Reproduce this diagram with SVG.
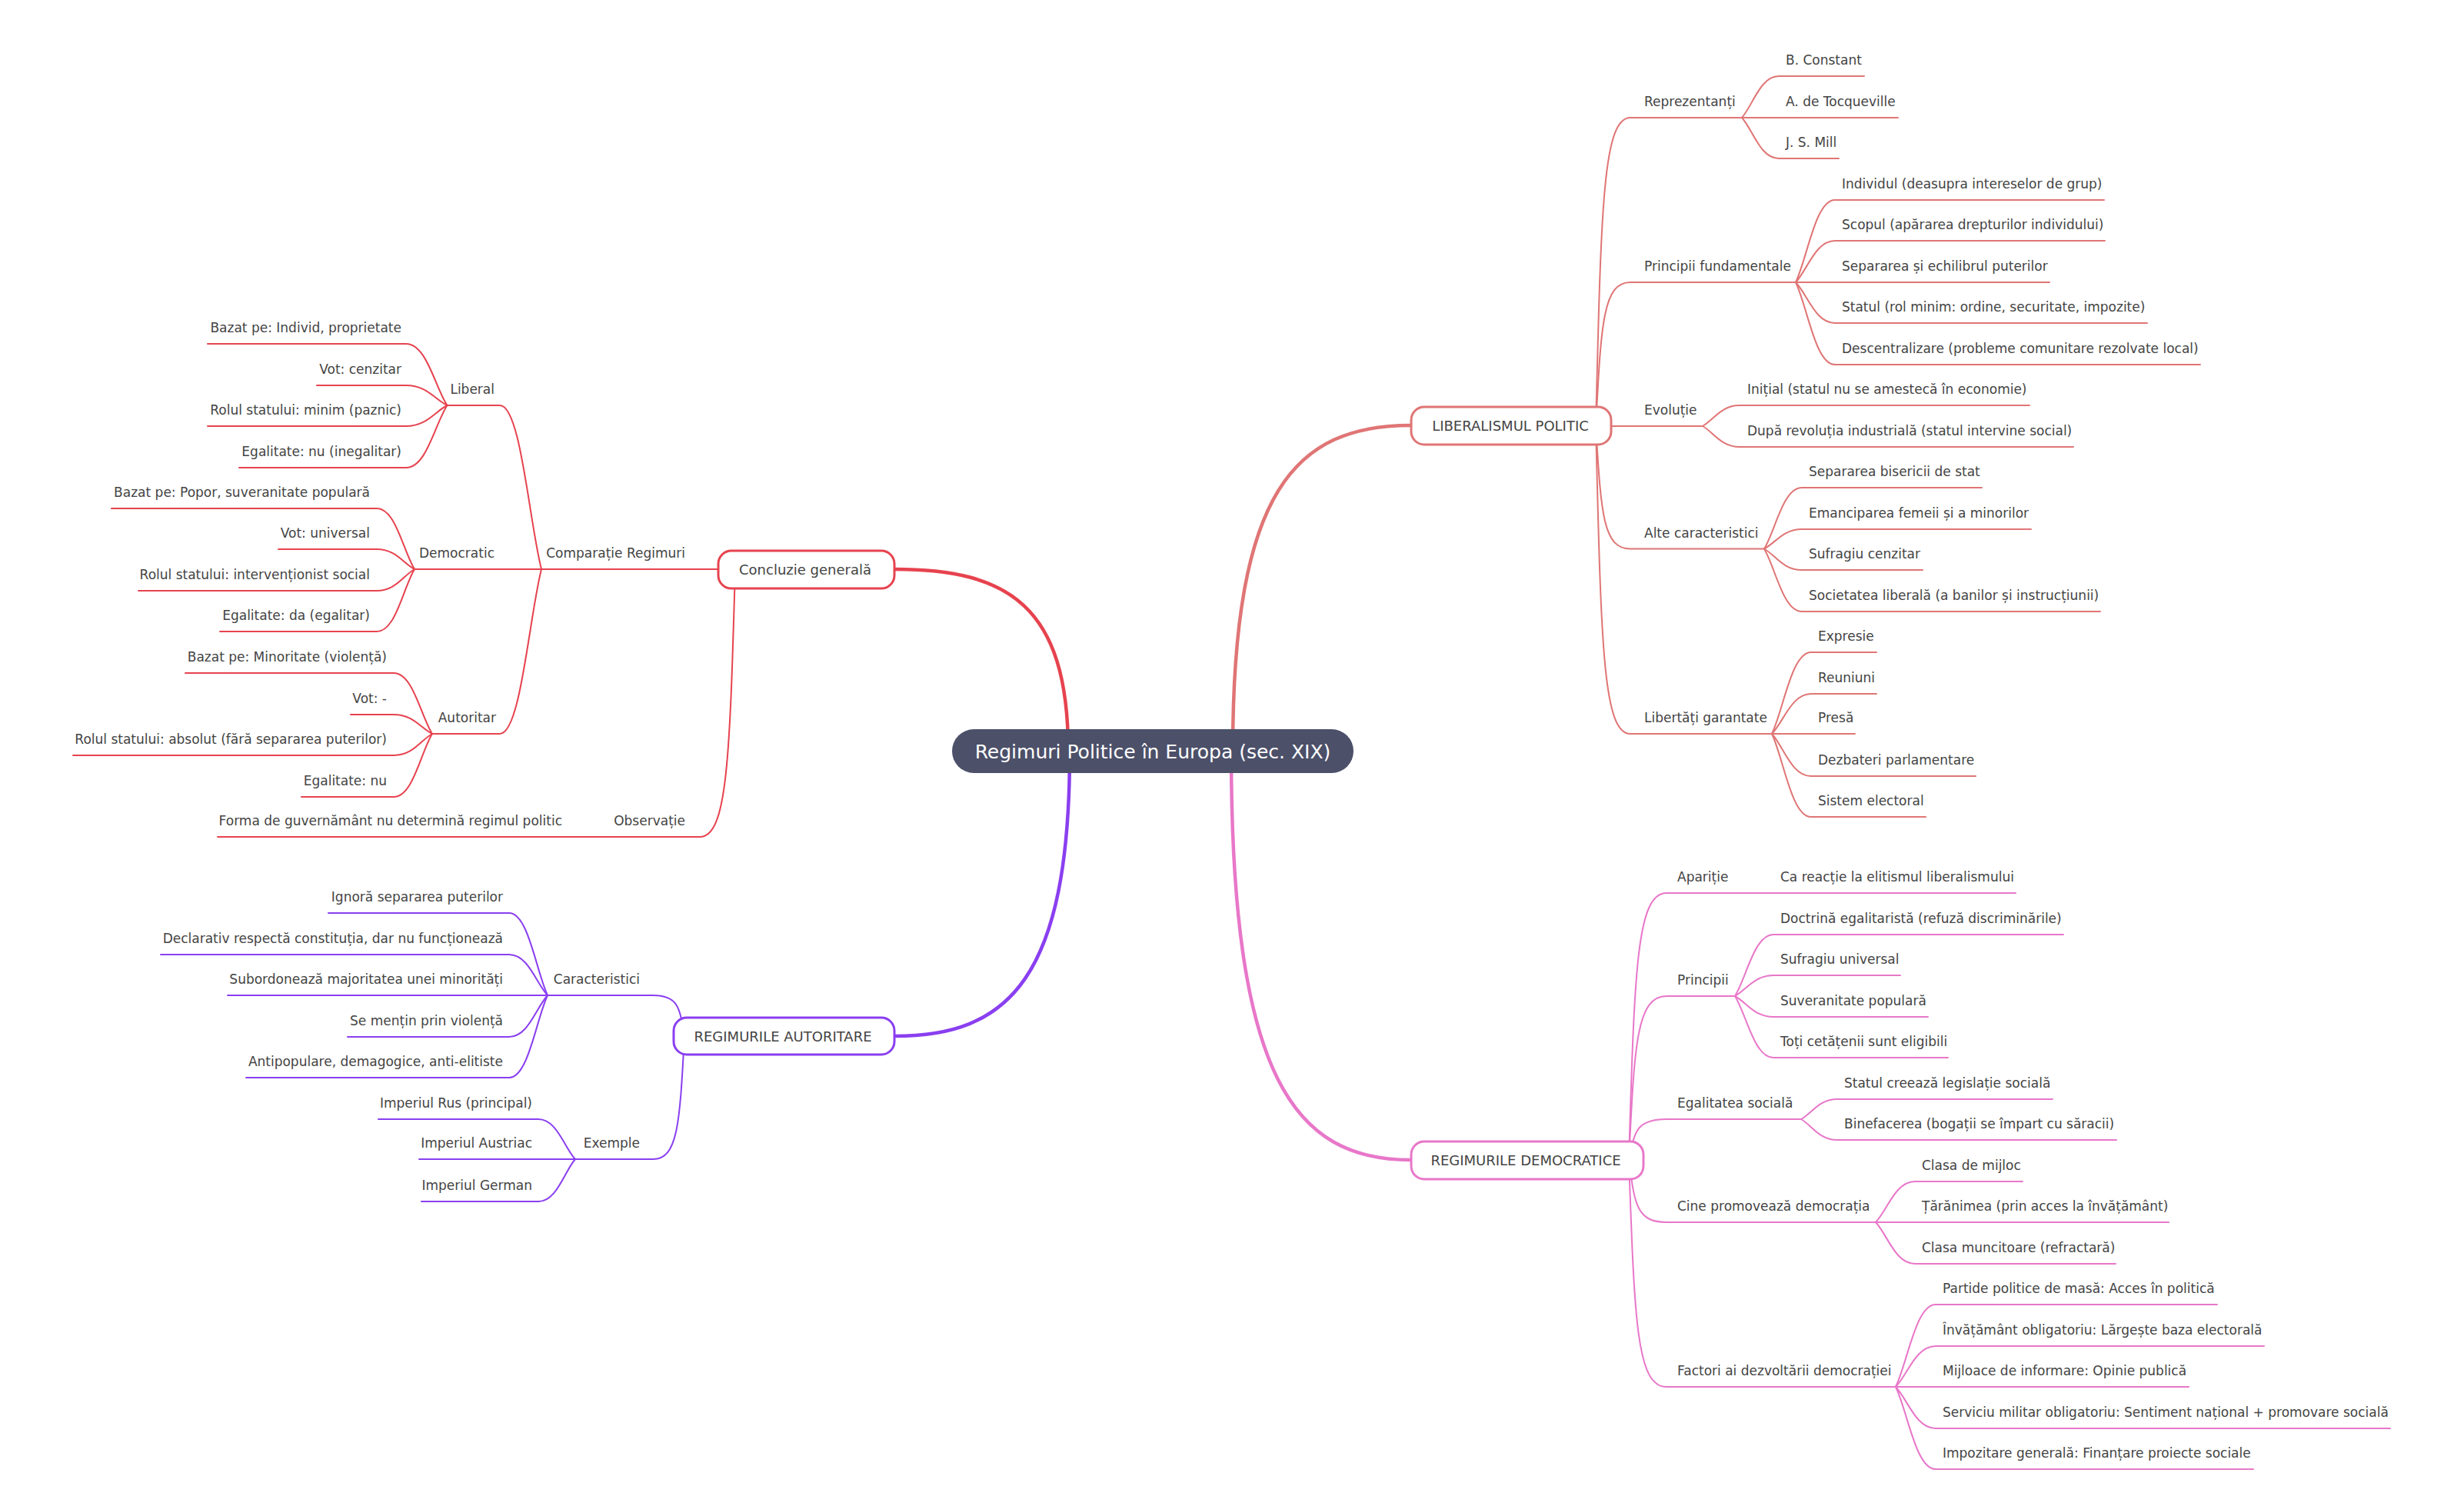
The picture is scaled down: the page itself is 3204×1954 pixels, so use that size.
<svg xmlns="http://www.w3.org/2000/svg" width="3204" height="1954" viewBox="0 0 3204 1954">
<style>
.t{font-family:"DejaVu Sans","Liberation Sans",sans-serif;font-size:17px;fill:#444}
.e{text-anchor:end}
.nt{font-family:"DejaVu Sans","Liberation Sans",sans-serif;font-size:18px;fill:#444;text-anchor:middle}
.rt{font-family:"DejaVu Sans","Liberation Sans",sans-serif;font-size:25px;fill:#fff;text-anchor:middle}
.c{fill:none;stroke-width:2;stroke-linecap:round}
.k{fill:none;stroke-width:4.5;stroke-linecap:round}
.sl{stroke:#e07575}.sr{stroke:#e6434f}.sp{stroke:#8a3ff0}.sk{stroke:#e877c9}
.box{fill:#fff;stroke-width:3}
</style>
<rect width="3204" height="1954" fill="#fff"/>
<g id="connectors">
<path class="k sl" d="M1603,976 C1603,638 1684,553 1835,553"/>
<path class="k sr" d="M1389,976 C1389,787 1310,740 1163,740"/>
<path class="k sp" d="M1391,976 C1391,1273 1311,1347 1163,1347"/>
<path class="k sk" d="M1601,976 C1601,1402 1683,1508 1835,1508"/>
<!-- Liberalism -->
<g class="sl">
<path class="c" d="M2075,554 C2082,273 2084,153 2120,153 H2265"/>
<path class="c" d="M2075,554 C2082,423 2084,367 2120,367 H2335"/>
<path class="c" d="M2095,554 H2214"/>
<path class="c" d="M2075,554 C2082,666 2084,713.5 2120,713.5 H2294"/>
<path class="c" d="M2075,554 C2082,834 2084,954 2120,954 H2304"/>
<path class="c" d="M2265,153 C2279.4,136.8 2289,99 2313,99 H2424"/>
<path class="c" d="M2265,153 H2468"/>
<path class="c" d="M2265,153 C2279.4,168.9 2289,206 2313,206 H2391"/>
<path class="c" d="M2335,367 C2350.3,334.9 2360.5,260 2386,260 H2736"/>
<path class="c" d="M2335,367 C2350.3,350.8 2360.5,313 2386,313 H2737"/>
<path class="c" d="M2335,367 H2665"/>
<path class="c" d="M2335,367 C2350.3,382.9 2360.5,420 2386,420 H2792"/>
<path class="c" d="M2335,367 C2350.3,399.1 2360.5,474 2386,474 H2861"/>
<path class="c" d="M2214,554 C2228.4,545.9 2238,527 2262,527 H2639"/>
<path class="c" d="M2214,554 C2228.4,562.1 2238,581 2262,581 H2696"/>
<path class="c" d="M2294,713.5 C2308.7,689.6 2318.5,634 2343,634 H2577"/>
<path class="c" d="M2294,713.5 C2308.7,705.9 2318.5,688 2343,688 H2641"/>
<path class="c" d="M2294,713.5 C2308.7,721.8 2318.5,741 2343,741 H2500"/>
<path class="c" d="M2294,713.5 C2308.7,738 2318.5,795 2343,795 H2731"/>
<path class="c" d="M2304,954 C2319.3,922.2 2329.5,848 2355,848 H2440"/>
<path class="c" d="M2304,954 C2319.3,938.4 2329.5,902 2355,902 H2440"/>
<path class="c" d="M2304,954 H2412"/>
<path class="c" d="M2304,954 C2319.3,970.5 2329.5,1009 2355,1009 H2569"/>
<path class="c" d="M2304,954 C2319.3,986.4 2329.5,1062 2355,1062 H2504"/>
</g>
<!-- Democratice -->
<g class="sk">
<path class="c" d="M2118,1508 C2125.4,1265 2127.8,1161 2167,1161 H2621"/>
<path class="c" d="M2118,1508 C2125.4,1359 2127.8,1295 2167,1295 H2256"/>
<path class="c" d="M2118,1508 C2125.4,1471 2127.8,1455 2167,1455 H2342"/>
<path class="c" d="M2118,1508 C2125.4,1564.7 2127.8,1589 2167,1589 H2439"/>
<path class="c" d="M2118,1508 C2125.4,1714.5 2127.8,1803 2167,1803 H2465"/>
<path class="c" d="M2256,1295 C2271,1271 2281,1215 2306,1215 H2683"/>
<path class="c" d="M2256,1295 C2271,1286.9 2281,1268 2306,1268 H2471"/>
<path class="c" d="M2256,1295 C2271,1303.1 2281,1322 2306,1322 H2507"/>
<path class="c" d="M2256,1295 C2271,1319 2281,1375 2306,1375 H2533"/>
<path class="c" d="M2342,1455 C2356.1,1447.2 2365.5,1429 2389,1429 H2669"/>
<path class="c" d="M2342,1455 C2356.1,1463.1 2365.5,1482 2389,1482 H2752"/>
<path class="c" d="M2439,1589 C2454.3,1573.1 2464.5,1536 2490,1536 H2630"/>
<path class="c" d="M2439,1589 H2820"/>
<path class="c" d="M2439,1589 C2454.3,1605.2 2464.5,1643 2490,1643 H2751"/>
<path class="c" d="M2465,1803 C2480.6,1770.9 2491,1696 2517,1696 H2883"/>
<path class="c" d="M2465,1803 C2480.6,1787.1 2491,1750 2517,1750 H2944"/>
<path class="c" d="M2465,1803 H2846"/>
<path class="c" d="M2465,1803 C2480.6,1819.2 2491,1857 2517,1857 H3108"/>
<path class="c" d="M2465,1803 C2480.6,1835.1 2491,1910 2517,1910 H2930"/>
</g>
<!-- Concluzie -->
<g class="sr">
<path class="c" d="M934,740 H704"/>
<path class="c" d="M956,740 C949,983.6 946,1088 910,1088 H283"/>
<path class="c" d="M704,740 C687.8,676.1 677,527 650,527 H581.5"/>
<path class="c" d="M704,740 H539"/>
<path class="c" d="M704,740 C687.8,804.2 677,954 650,954 H562"/>
<path class="c" d="M581.5,527 C565.5,503 554.8,447 528,447 H270"/>
<path class="c" d="M581.5,527 C565.5,519.2 554.8,501 528,501 H412"/>
<path class="c" d="M581.5,527 C565.5,535.1 554.8,554 528,554 H270"/>
<path class="c" d="M581.5,527 C565.5,551.3 554.8,608 528,608 H311"/>
<path class="c" d="M539,740 C524.3,716.3 514.5,661 490,661 H145"/>
<path class="c" d="M539,740 C524.3,732.2 514.5,714 490,714 H362"/>
<path class="c" d="M539,740 C524.3,748.4 514.5,768 490,768 H180"/>
<path class="c" d="M539,740 C524.3,764.3 514.5,821 490,821 H286"/>
<path class="c" d="M562,954 C547,930.3 537,875 512,875 H241"/>
<path class="c" d="M562,954 C547,946.5 537,929 512,929 H456"/>
<path class="c" d="M562,954 C547,962.4 537,982 512,982 H95"/>
<path class="c" d="M562,954 C547,978.6 537,1036 512,1036 H392"/>
</g>
<!-- Autoritare -->
<g class="sp">
<path class="c" d="M890,1347 C883.9,1309.9 881.8,1294 849,1294 H712"/>
<path class="c" d="M890,1347 C883.9,1459 881.8,1507 849,1507 H748"/>
<path class="c" d="M712,1294 C697,1261.9 687,1187 662,1187 H427"/>
<path class="c" d="M712,1294 C697,1278.1 687,1241 662,1241 H209"/>
<path class="c" d="M712,1294 H296"/>
<path class="c" d="M712,1294 C697,1310.2 687,1348 662,1348 H452"/>
<path class="c" d="M712,1294 C697,1326.1 687,1401 662,1401 H320"/>
<path class="c" d="M748,1507 C733.6,1491.4 724,1455 700,1455 H492"/>
<path class="c" d="M748,1507 H545"/>
<path class="c" d="M748,1507 C733.6,1523.5 724,1562 700,1562 H548"/>
</g>
</g>
<g id="root"><rect x="1238" y="948" width="522" height="57" rx="28.5" fill="#4c5069"/><text class="rt" x="1499" y="985.5">Regimuri Politice în Europa (sec. XIX)</text></g>
<g id="n-liberalism"><rect class="box sl" x="1835" y="529" width="260" height="49" rx="17"/><text class="nt" x="1964" y="560">LIBERALISMUL POLITIC</text></g>
<g id="n-democratice"><rect class="box sk" x="1835" y="1484" width="302" height="49" rx="17"/><text class="nt" x="1984" y="1515">REGIMURILE DEMOCRATICE</text></g>
<g id="n-concluzie"><rect class="box sr" x="934" y="716" width="229" height="49" rx="17"/><text class="nt" x="1047" y="747">Concluzie generală</text></g>
<g id="n-autoritare"><rect class="box sp" x="876" y="1323" width="287" height="48" rx="17"/><text class="nt" x="1018" y="1354">REGIMURILE AUTORITARE</text></g>
<g id="n-reprezentanti"><text class="t" x="2138" y="138">Reprezentanți</text></g>
<g id="n-constant"><text class="t" x="2322" y="84">B. Constant</text></g>
<g id="n-tocqueville"><text class="t" x="2322" y="138">A. de Tocqueville</text></g>
<g id="n-mill"><text class="t" x="2322" y="191">J. S. Mill</text></g>
<g id="n-principii-f"><text class="t" x="2138" y="352">Principii fundamentale</text></g>
<g id="n-pf1"><text class="t" x="2395" y="245">Individul (deasupra intereselor de grup)</text></g>
<g id="n-pf2"><text class="t" x="2395" y="298">Scopul (apărarea drepturilor individului)</text></g>
<g id="n-pf3"><text class="t" x="2395" y="352">Separarea și echilibrul puterilor</text></g>
<g id="n-pf4"><text class="t" x="2395" y="405">Statul (rol minim: ordine, securitate, impozite)</text></g>
<g id="n-pf5"><text class="t" x="2395" y="459">Descentralizare (probleme comunitare rezolvate local)</text></g>
<g id="n-evolutie"><text class="t" x="2138" y="539">Evoluție</text></g>
<g id="n-ev1"><text class="t" x="2272" y="512">Inițial (statul nu se amestecă în economie)</text></g>
<g id="n-ev2"><text class="t" x="2272" y="566">După revoluția industrială (statul intervine social)</text></g>
<g id="n-alte"><text class="t" x="2138" y="698.5">Alte caracteristici</text></g>
<g id="n-ac1"><text class="t" x="2352" y="619">Separarea bisericii de stat</text></g>
<g id="n-ac2"><text class="t" x="2352" y="673">Emanciparea femeii și a minorilor</text></g>
<g id="n-ac3"><text class="t" x="2352" y="726">Sufragiu cenzitar</text></g>
<g id="n-ac4"><text class="t" x="2352" y="780">Societatea liberală (a banilor și instrucțiunii)</text></g>
<g id="n-libertati"><text class="t" x="2138" y="939">Libertăți garantate</text></g>
<g id="n-lg1"><text class="t" x="2364" y="833">Expresie</text></g>
<g id="n-lg2"><text class="t" x="2364" y="887">Reuniuni</text></g>
<g id="n-lg3"><text class="t" x="2364" y="939">Presă</text></g>
<g id="n-lg4"><text class="t" x="2364" y="994">Dezbateri parlamentare</text></g>
<g id="n-lg5"><text class="t" x="2364" y="1047">Sistem electoral</text></g>
<g id="n-aparitie"><text class="t" x="2181" y="1146">Apariție</text></g>
<g id="n-ap1"><text class="t" x="2315" y="1146">Ca reacție la elitismul liberalismului</text></g>
<g id="n-principii"><text class="t" x="2181" y="1280">Principii</text></g>
<g id="n-pr1"><text class="t" x="2315" y="1200">Doctrină egalitaristă (refuză discriminările)</text></g>
<g id="n-pr2"><text class="t" x="2315" y="1253">Sufragiu universal</text></g>
<g id="n-pr3"><text class="t" x="2315" y="1307">Suveranitate populară</text></g>
<g id="n-pr4"><text class="t" x="2315" y="1360">Toți cetățenii sunt eligibili</text></g>
<g id="n-egalitatea"><text class="t" x="2181" y="1440">Egalitatea socială</text></g>
<g id="n-eg1"><text class="t" x="2398" y="1414">Statul creează legislație socială</text></g>
<g id="n-eg2"><text class="t" x="2398" y="1467">Binefacerea (bogații se împart cu săracii)</text></g>
<g id="n-cine"><text class="t" x="2181" y="1574">Cine promovează democrația</text></g>
<g id="n-ci1"><text class="t" x="2499" y="1521">Clasa de mijloc</text></g>
<g id="n-ci2"><text class="t" x="2499" y="1574">Țărănimea (prin acces la învățământ)</text></g>
<g id="n-ci3"><text class="t" x="2499" y="1628">Clasa muncitoare (refractară)</text></g>
<g id="n-factori"><text class="t" x="2181" y="1788">Factori ai dezvoltării democrației</text></g>
<g id="n-fa1"><text class="t" x="2526" y="1681">Partide politice de masă: Acces în politică</text></g>
<g id="n-fa2"><text class="t" x="2526" y="1735">Învățământ obligatoriu: Lărgește baza electorală</text></g>
<g id="n-fa3"><text class="t" x="2526" y="1788">Mijloace de informare: Opinie publică</text></g>
<g id="n-fa4"><text class="t" x="2526" y="1842">Serviciu militar obligatoriu: Sentiment național + promovare socială</text></g>
<g id="n-fa5"><text class="t" x="2526" y="1895">Impozitare generală: Finanțare proiecte sociale</text></g>
<g id="n-comparatie"><text class="t e" x="891" y="725">Comparație Regimuri</text></g>
<g id="n-liberal"><text class="t e" x="643" y="512">Liberal</text></g>
<g id="n-li1"><text class="t e" x="522" y="432">Bazat pe: Individ, proprietate</text></g>
<g id="n-li2"><text class="t e" x="522" y="486">Vot: cenzitar</text></g>
<g id="n-li3"><text class="t e" x="522" y="539">Rolul statului: minim (paznic)</text></g>
<g id="n-li4"><text class="t e" x="522" y="593">Egalitate: nu (inegalitar)</text></g>
<g id="n-democratic"><text class="t e" x="643" y="725">Democratic</text></g>
<g id="n-de1"><text class="t e" x="481" y="646">Bazat pe: Popor, suveranitate populară</text></g>
<g id="n-de2"><text class="t e" x="481" y="699">Vot: universal</text></g>
<g id="n-de3"><text class="t e" x="481" y="753">Rolul statului: intervenționist social</text></g>
<g id="n-de4"><text class="t e" x="481" y="806">Egalitate: da (egalitar)</text></g>
<g id="n-autoritar"><text class="t e" x="645" y="939">Autoritar</text></g>
<g id="n-au1"><text class="t e" x="503" y="860">Bazat pe: Minoritate (violență)</text></g>
<g id="n-au2"><text class="t e" x="503" y="914">Vot: -</text></g>
<g id="n-au3"><text class="t e" x="503" y="967">Rolul statului: absolut (fără separarea puterilor)</text></g>
<g id="n-au4"><text class="t e" x="503" y="1021">Egalitate: nu</text></g>
<g id="n-observatie"><text class="t e" x="891" y="1073">Observație</text></g>
<g id="n-ob1"><text class="t e" x="731" y="1073">Forma de guvernământ nu determină regimul politic</text></g>
<g id="n-caracteristici"><text class="t e" x="832" y="1279">Caracteristici</text></g>
<g id="n-ca1"><text class="t e" x="654" y="1172">Ignoră separarea puterilor</text></g>
<g id="n-ca2"><text class="t e" x="654" y="1226">Declarativ respectă constituția, dar nu funcționează</text></g>
<g id="n-ca3"><text class="t e" x="654" y="1279">Subordonează majoritatea unei minorități</text></g>
<g id="n-ca4"><text class="t e" x="654" y="1333">Se mențin prin violență</text></g>
<g id="n-ca5"><text class="t e" x="654" y="1386">Antipopulare, demagogice, anti-elitiste</text></g>
<g id="n-exemple"><text class="t e" x="832" y="1492">Exemple</text></g>
<g id="n-ex1"><text class="t e" x="692" y="1440">Imperiul Rus (principal)</text></g>
<g id="n-ex2"><text class="t e" x="692" y="1492">Imperiul Austriac</text></g>
<g id="n-ex3"><text class="t e" x="692" y="1547">Imperiul German</text></g>
</svg>
